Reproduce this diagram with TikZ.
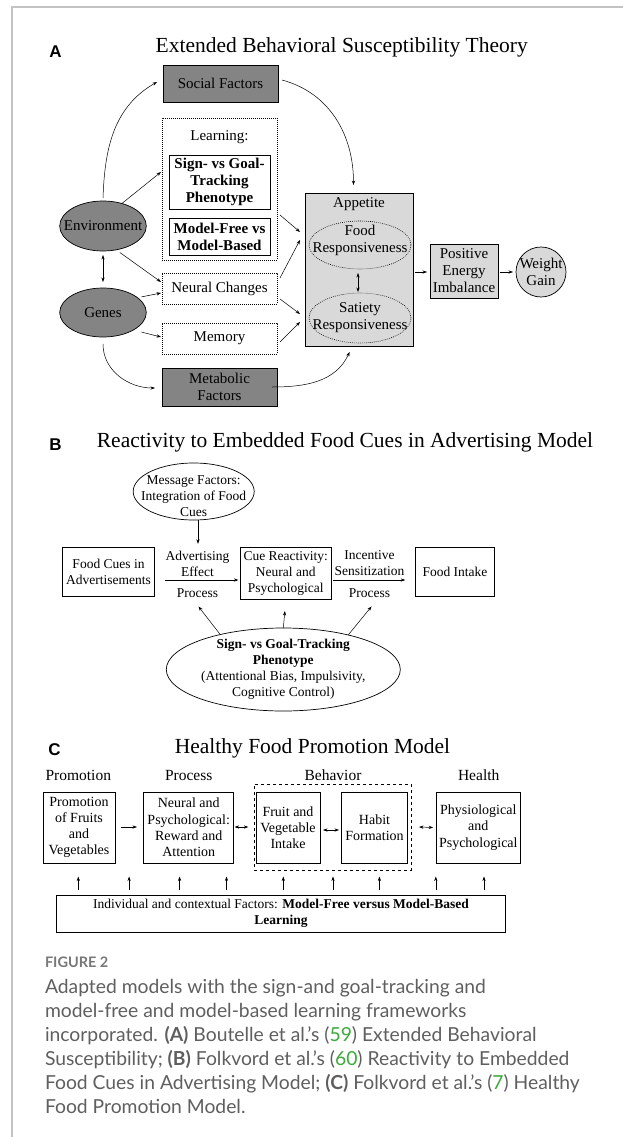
\documentclass[tikz,border=0pt]{standalone}
\usepackage{fontspec}
\setmainfont{Liberation Serif}
\newfontfamily\lblfont{Liberation Sans}
\newfontfamily\capfont{Lato}
\usetikzlibrary{shapes.geometric,arrows.meta,calc}
\definecolor{darkfill}{RGB}{132,132,132}
\definecolor{lightfill}{RGB}{217,217,217}
\definecolor{framegray}{RGB}{195,195,195}
\definecolor{capgray}{RGB}{95,95,95}
\definecolor{figgray}{RGB}{120,120,120}
\definecolor{linkgreen}{RGB}{60,170,60}
\begin{document}
\begin{tikzpicture}[x=1pt,y=1pt,
  every node/.style={inner sep=0pt, outer sep=0pt, align=center},
  fa/.style={font=\fontsize{15}{17}\selectfont},
  fab/.style={font=\fontsize{15}{17}\selectfont\bfseries},
  fb/.style={font=\fontsize{13.5}{16}\selectfont},
  fc/.style={font=\fontsize{14}{16.2}\selectfont},
  fh/.style={font=\fontsize{15.5}{18}\selectfont},
  box/.style={draw, line width=0.7pt, rectangle},
  dotbox/.style={draw, line width=0.6pt, dash pattern=on 0.8pt off 1.2pt, rectangle},
  dotell/.style={draw, line width=0.6pt, dash pattern=on 0.8pt off 1.2pt, ellipse},
  arr/.style={-{Stealth[length=4.5pt,width=3.2pt]}, line width=0.5pt},
  dbl/.style={{Stealth[length=4.5pt,width=3.2pt]}-{Stealth[length=4.5pt,width=3.2pt]}, line width=0.5pt},
  ttl/.style={font=\fontsize{21.5}{24}\selectfont},
  plab/.style={font=\lblfont\bfseries\fontsize{17}{20}\selectfont},
  capl/.style={anchor=base west, text=capgray, font=\capfont\fontsize{19.3}{24}\selectfont},
]
\fill[white] (0,0) rectangle (623,-1137);
\useasboundingbox (0,0) rectangle (623,-1137);
\draw[framegray, line width=1.2pt] (12,-1137) -- (12,-7) -- (623,-7);

%% ---------------- Panel A ----------------
\node[plab] (la) at (55.6,-52) {A};
\node[ttl] (ta) at (341.7,-47) {Extended Behavioral Susceptibility Theory};
\node[box, fill=darkfill, fa, minimum width=115pt, minimum height=37pt] (soc) at (220.5,-83.5) {Social Factors};
\node[dotbox, minimum width=115pt, minimum height=142pt] (learn) at (219.5,-189) {};
\node[fa] (learnlbl) at (219.5,-137) {Learning:};
\node[box, fab, minimum width=101pt, minimum height=54pt] (sign) at (219.5,-182) {Sign- vs Goal-\\Tracking\\Phenotype};
\node[box, fab, minimum width=101pt, minimum height=37pt] (mf) at (219.5,-236.5) {Model-Free vs\\Model-Based};
\node[dotbox, fa, minimum width=115pt, minimum height=31pt] (neur) at (219.5,-288.5) {Neural Changes};
\node[dotbox, fa, minimum width=115pt, minimum height=31pt] (mem) at (219.5,-338.5) {Memory};
\node[box, fill=darkfill, fa, minimum width=115pt, minimum height=38pt] (met) at (219.5,-387) {Metabolic\\Factors};
\node[ellipse, draw, line width=0.7pt, fill=darkfill, minimum width=86.6pt, minimum height=50pt,
      label={[fa]center:Environment}] (env) at (103,-226) {};
\node[ellipse, draw, line width=0.7pt, fill=darkfill, minimum width=86.6pt, minimum height=49pt,
      label={[fa]center:Genes}] (gen) at (103,-312.5) {};
\node[box, fill=lightfill, minimum width=108pt, minimum height=153pt] (app) at (359,-269.5) {};
\node[fa] (applbl) at (359,-204) {Appetite};
\node[dotell, minimum width=102pt, minimum height=48pt,
      label={[fa, yshift=5pt]center:{Food\\Responsiveness}}] (food) at (360,-245) {};
\node[dotell, minimum width=102pt, minimum height=50pt,
      label={[fa]center:{Satiety\\Responsiveness}}] (sat) at (360,-318) {};
\node[box, fill=lightfill, fa, minimum width=68pt, minimum height=54pt] (pos) at (464,-271) {Positive\\Energy\\Imbalance};
\node[ellipse, draw, line width=0.7pt, fill=lightfill, minimum width=50pt, minimum height=50pt,
      label={[fa]center:{Weight\\Gain}}] (wg) at (541,-272) {};

\draw[arr] ($(env.north)+(0,3)$) to[out=88,in=-150] ($(soc.west)+(-6,1.5)$);
\draw[arr] (env.50) -- ($(learn.west)+(-1,17)$);
\draw[arr] ($(soc.east)+(4,3.5)$) to[out=-15,in=90] ($(app.north)+(-5.5,8)$);
\draw[arr] ($(env.-50)+(-2,-4)$) -- ($(neur.west)+(-1,6.5)$);
\draw[arr] ($(gen.25)+(5,0)$) -- ($(neur.west)+(-1,-4.5)$);
\draw[arr] ($(gen.-25)+(5,-4)$) -- ($(mem.west)+(-1,1.5)$);
\draw[arr] ($(gen.south)+(0,-7)$) to[out=-90,in=180] ($(met.west)+(-7,-1)$);
\draw[arr] ($(met.east)+(-5,0)$) to[out=0,in=-115] ($(app.south)+(-9.4,-6)$);
\draw[arr] ($(learn.east)+(3,-26)$) -- ($(app.west)+(-5,37.5)$);
\draw[arr] ($(neur.east)+(3,10.5)$) -- ($(app.west)+(-5,29.5)$);
\draw[arr] ($(neur.east)+(3,-10.5)$) -- ($(app.west)+(-5,-44.5)$);
\draw[arr] ($(mem.east)+(3,-3.5)$) -- ($(app.west)+(-5,-52.5)$);
\draw[dbl] ($(env.south)+(0,-4)$) -- ($(gen.north)+(0,6)$);
\draw[dbl] ($(food.south)+(-2,-4)$) -- ($(sat.north)+(-2,1)$);
\draw[arr] ($(app.east)+(2,-2.5)$) -- ($(pos.west)+(-3,-1)$);
\draw[arr] ($(pos.east)+(2,-1)$) -- ($(wg.west)+(-3,0)$);

%% ---------------- Panel B ----------------
\node[plab] (lb) at (55.6,-445) {B};
\node[ttl] (tb) at (345,-442) {Reactivity to Embedded Food Cues in Advertising Model};
\node[ellipse, draw, line width=0.7pt, minimum width=121pt, minimum height=57pt,
      label={[fb, yshift=-4.5pt]center:{Message Factors:\\Integration of Food\\Cues}}] (msg) at (193.7,-491.5) {};
\node[box, fb, minimum width=91.5pt, minimum height=49pt] (fc) at (108.5,-571.5) {Food Cues in\\Advertisements};
\node[box, fb, minimum width=90.6pt, minimum height=52pt] (cue) at (285.7,-573) {Cue Reactivity:\\Neural and\\Psychological};
\node[box, fb, minimum width=79.5pt, minimum height=49pt] (fi) at (455,-571.5) {Food Intake};
\node[fb] (adv) at (197.5,-563.5) {Advertising\\Effect};
\node[fb] (advp) at (197.5,-593) {Process};
\node[fb] (inc) at (369.5,-563.5) {Incentive\\Sensitization};
\node[fb] (incp) at (369.5,-593) {Process};
\node[ellipse, draw, line width=0.7pt, minimum width=234pt, minimum height=83pt,
      label={[fb]center:{\textbf{Sign- vs Goal-Tracking}\\\textbf{Phenotype}\\(Attentional Bias, Impulsivity,\\Cognitive Control)}}] (sgt) at (283.3,-669.5) {};

\draw[arr] ($(msg.south)+(4.3,0.5)$) -- ($(adv.north)+(0.5,7)$);
\draw[arr] ($(fc.east)+(11,-8.5)$) -- ($(cue.west)+(-2,-7)$);
\draw[arr] ($(cue.east)+(2,-7)$) -- ($(fi.west)+(-10,-8.5)$);
\draw[arr] (sgt.151) -- ($(advp.south)+(1,-9)$);
\draw[arr] (sgt.north) -- ($(cue.south)+(-0.8,-12)$);
\draw[arr] (sgt.28) -- ($(incp.south)+(2,-9)$);

%% ---------------- Panel C ----------------
\node[plab] (lc) at (54.4,-750) {C};
\node[ttl] (tc) at (312.5,-748) {Healthy Food Promotion Model};
\node[fh] (hp) at (78.3,-775) {Promotion};
\node[fh] (hq) at (188.7,-775) {Process};
\node[fh] (hb) at (333,-775) {Behavior};
\node[fh] (hh) at (478.7,-775) {Health};
\node[box, fc, minimum width=72.3pt, minimum height=71pt] (prom) at (79,-827.5) {Promotion\\of Fruits\\and\\Vegetables};
\node[box, fc, minimum width=89.8pt, minimum height=71pt] (neu) at (188.7,-827.5) {Neural and\\Psychological:\\Reward and\\Attention};
\node[draw, line width=0.6pt, dashed, minimum width=157pt, minimum height=86pt] (beh) at (332.5,-827) {};
\node[box, fc, minimum width=64pt, minimum height=71pt] (fruit) at (288,-827.5) {Fruit and\\Vegetable\\Intake};
\node[box, fc, minimum width=65.5pt, minimum height=71pt] (habit) at (374.5,-827.5) {Habit\\Formation};
\node[box, fc, minimum width=84.3pt, minimum height=71pt] (phys) at (478.3,-827.5) {Physiological\\and\\Psychological};
\node[box, fb, minimum width=449.4pt, minimum height=37pt] (bot) at (281,-913.5) {Individual and contextual Factors: \textbf{Model-Free versus Model-Based}\\\textbf{Learning}};

\draw[arr] ($(prom.east)+(6,0.5)$) -- ($(neu.west)+(-6.8,0.5)$);
\draw[dbl] ($(neu.east)+(1,0.5)$) -- ($(beh.west)+(-5.7,0)$);
\draw[dbl] ($(fruit.east)+(3,-2.5)$) -- ($(habit.west)+(-2.7,-2.5)$);
\draw[dbl] ($(beh.east)+(8,0)$) -- ($(phys.west)+(-3,0)$);
\foreach \i/\x in {1/78.3,2/129.1,3/179.6,4/226.5,5/283.3,6/333,7/379.4,8/435.8,9/484}{
  \coordinate (u\i) at (\x,0);
  \draw[arr] ($(bot.north -| u\i)+(0,5)$) -- ($(bot.north -| u\i)+(0,18.5)$);
}

%% ---------------- Caption ----------------
\node[anchor=base west, text=figgray, font=\capfont\bfseries\fontsize{14.5}{16}\selectfont] (fig) at (45,-967) {FIGURE 2};
\node[capl] (c1) at (45,-993) {Adapted models with the sign-and goal-tracking and};
\node[capl] (c2) at (45,-1017) {model-free and model-based learning frameworks};
\node[capl] (c3) at (45,-1041) {incorporated. \textbf{(A)} Boutelle et al.’s ({\color{linkgreen}59}) Extended Behavioral};
\node[capl] (c4) at (45,-1065) {Susceptibility; \textbf{(B)} Folkvord et al.’s ({\color{linkgreen}60}) Reactivity to Embedded};
\node[capl] (c5) at (45,-1089) {Food Cues in Advertising Model; \textbf{(C)} Folkvord et al.’s ({\color{linkgreen}7}) Healthy};
\node[capl] (c6) at (45,-1113) {Food Promotion Model.};
\end{tikzpicture}
\end{document}
